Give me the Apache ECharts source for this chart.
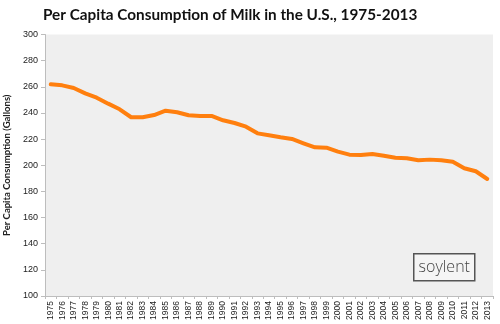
<!DOCTYPE html>
<html>
<head>
<meta charset="utf-8">
<script src="https://cdn.jsdelivr.net/npm/echarts@6/dist/echarts.min.js"></script>
<style>
  html, body { margin: 0; padding: 0; background: #ffffff; }
  #chart { width: 500px; height: 324px; }
</style>
</head>
<body>
<div id="chart"></div>
<script>
// Years on the category axis
const years = [];
for (let y = 1975; y <= 2013; y++) years.push(String(y));

// Per capita milk consumption (gallons), one value per year
const milkGallons = [
  261.9, 261.1, 259.1, 255.0, 251.7, 247.1, 242.8, 236.7, 236.7, 238.4,
  241.7, 240.5, 238.2, 237.7, 237.7, 234.4, 232.3, 229.5, 224.4, 222.9,
  221.4, 220.1, 216.8, 213.7, 213.4, 210.4, 208.1, 207.8, 208.6, 207.3,
  205.8, 205.3, 203.8, 204.3, 203.8, 202.7, 197.7, 195.4, 189.5
];

const titleText = 'Per Capita Consumption of Milk in the U.S., 1975-2013';
const yAxisTitle = 'Per Capita Consumption (Gallons)';
const brandText = 'soylent';

const chart = echarts.init(document.getElementById('chart'), null, { renderer: 'canvas' });

chart.setOption({
  animation: false,
  backgroundColor: '#ffffff',
  title: {
    text: titleText,
    left: 38,
    top: 3,
    textStyle: {
      fontFamily: 'Lato, "Open Sans", sans-serif',
      fontWeight: 'bold',
      fontSize: 15.3,
      color: '#111111'
    }
  },
  grid: {
    left: 45,
    right: 7,
    top: 34.5,
    bottom: 28,
    containLabel: false,
    outerBoundsMode: 'none',
    show: true,
    backgroundColor: '#efefef',
    borderWidth: 0
  },
  xAxis: {
    type: 'category',
    data: years,
    boundaryGap: true,
    axisLine: { show: true, lineStyle: { color: '#bdbdbd', width: 1 } },
    axisTick: { show: true, alignWithLabel: false, length: 3, lineStyle: { color: '#bdbdbd' } },
    axisLabel: {
      interval: 0,
      rotate: 90,
      margin: 5,
      fontSize: 8.5,
      fontFamily: '"Liberation Sans", Arial, sans-serif',
      color: '#222222'
    },
    splitLine: { show: false }
  },
  yAxis: {
    type: 'value',
    min: 100,
    max: 300,
    interval: 20,
    name: yAxisTitle,
    nameLocation: 'middle',
    nameGap: 30,
    nameRotate: 90,
    nameTextStyle: {
      fontFamily: 'Lato, "Open Sans", sans-serif',
      fontWeight: 'bold',
      fontSize: 9.5,
      color: '#222222'
    },
    axisLine: { show: true, lineStyle: { color: '#bdbdbd', width: 1 } },
    axisTick: { show: true, length: 4, lineStyle: { color: '#bdbdbd' } },
    axisLabel: {
      margin: 7,
      fontSize: 9,
      fontFamily: '"Liberation Sans", Arial, sans-serif',
      color: '#222222'
    },
    splitLine: { show: false }
  },
  series: [{
    type: 'line',
    data: milkGallons,
    symbol: 'none',
    smooth: false,
    lineStyle: { color: '#ff7f0e', width: 4, cap: 'round', join: 'round' }
  }],
  graphic: [{
    type: 'group',
    left: 413,
    top: 253,
    children: [
      {
        type: 'rect',
        shape: { x: 0, y: 0, width: 61, height: 27 },
        style: { fill: '#f5f5f5', stroke: '#555555', lineWidth: 1.5 }
      },
      {
        type: 'text',
        x: 30.5,
        y: 13.5,
        style: {
          text: brandText,
          fill: '#444444',
          fontSize: 16,
          fontFamily: '"Open Sans", Lato, sans-serif',
          fontWeight: 300,
          align: 'center',
          verticalAlign: 'middle'
        }
      }
    ]
  }]
});
</script>
</body>
</html>
